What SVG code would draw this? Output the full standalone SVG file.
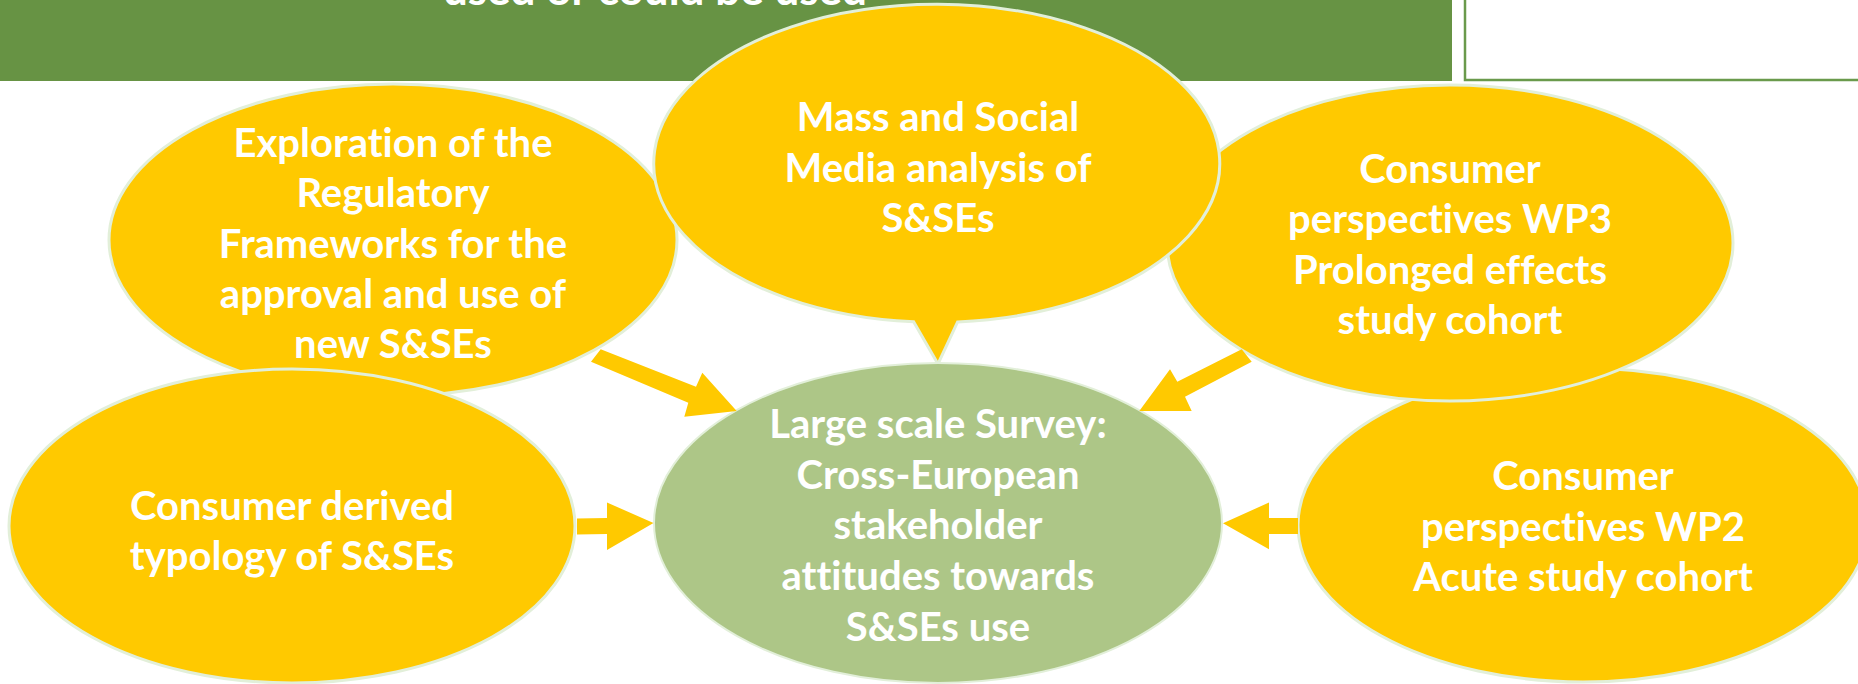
<svg xmlns="http://www.w3.org/2000/svg" width="1858" height="684" viewBox="0 0 1858 684">
<style>
.bub{fill:#FFC900;stroke:#E2EFD9;stroke-width:3}
.ctr{fill:#ADC687;stroke:#E2EFD9;stroke-width:2}
.arr{fill:#FFC900;stroke:none}
.t{font-family:Lato,"Open Sans","Liberation Sans",sans-serif;font-weight:bold;font-size:40px;fill:#FFFFFF;text-anchor:middle;font-variant-ligatures:none}
</style>
<rect width="1858" height="684" fill="#FFFFFF"/>
<g id="banner">
<rect x="0" y="0" width="1452" height="81" fill="#679344"/>
<text class="t" x="655" y="5" style="font-size:44px">used or could be used</text>
</g>
<g id="sidebox">
<path d="M1465,0 V80 H1858" fill="#FFFFFF" stroke="#6A9A4C" stroke-width="2.5"/>
</g>
<g id="node-regulatory">
<ellipse class="bub" cx="393" cy="240" rx="284" ry="156"/>
<text class="t" x="393" y="157">Exploration of the<tspan x="393" dy="50.3">Regulatory</tspan><tspan x="393" dy="50.3">Frameworks for the</tspan><tspan x="393" dy="50.3">approval and use of</tspan><tspan x="393" dy="50.3">new S&amp;SEs</tspan></text>
</g>
<g id="node-typology">
<ellipse class="bub" cx="292" cy="526" rx="283" ry="157"/>
<text class="t" x="292" y="519.5">Consumer derived<tspan x="292" dy="50">typology of S&amp;SEs</tspan></text>
</g>
<g id="node-wp2">
<ellipse class="bub" cx="1583" cy="525" rx="285" ry="157"/>
<text class="t" x="1583" y="490">Consumer<tspan x="1583" dy="50.5">perspectives WP2</tspan><tspan x="1583" dy="50.5">Acute study cohort</tspan></text>
</g>
<g id="node-wp3">
<ellipse class="bub" cx="1450" cy="243" rx="283" ry="158"/>
<text class="t" x="1450" y="183">Consumer<tspan x="1450" dy="50.3">perspectives WP3</tspan><tspan x="1450" dy="50.3">Prolonged effects</tspan><tspan x="1450" dy="50.3">study cohort</tspan></text>
</g>
<g id="node-media">
<path class="bub" d="M913.6,321.8 A283,159 0 1 1 957.6,321.9 L938,364 Z"/>
<text class="t" x="938" y="131">Mass and Social<tspan x="938" dy="50.5">Media analysis of</tspan><tspan x="938" dy="50.5">S&amp;SEs</tspan></text>
</g>
<g id="node-survey">
<ellipse class="ctr" cx="938" cy="523" rx="284" ry="160"/>
<text class="t" x="938" y="438">Large scale Survey:<tspan x="938" dy="50.7">Cross-European</tspan><tspan x="938" dy="50.7">stakeholder</tspan><tspan x="938" dy="50.7">attitudes towards</tspan><tspan x="938" dy="50.7">S&amp;SEs use</tspan></text>
</g>
<g id="connectors">
<polygon class="arr" points="600.7,349.3 696,386.7 702.3,372.7 736.7,411 684.3,416.7 688.3,402.7 591,361.7"/>
<polygon class="arr" points="1241.7,349.3 1177.3,381.7 1170,369.3 1139.3,411 1191.7,411 1185,396.7 1251.7,361.7"/>
<polygon class="arr" points="577,518.5 607,518 607,502.5 653.5,523 607,550 607,534 577,534.5"/>
<polygon class="arr" points="1298,518 1269,518 1269,502.5 1223,523.3 1269,549.3 1269,534 1298,534"/>
</g>
</svg>
